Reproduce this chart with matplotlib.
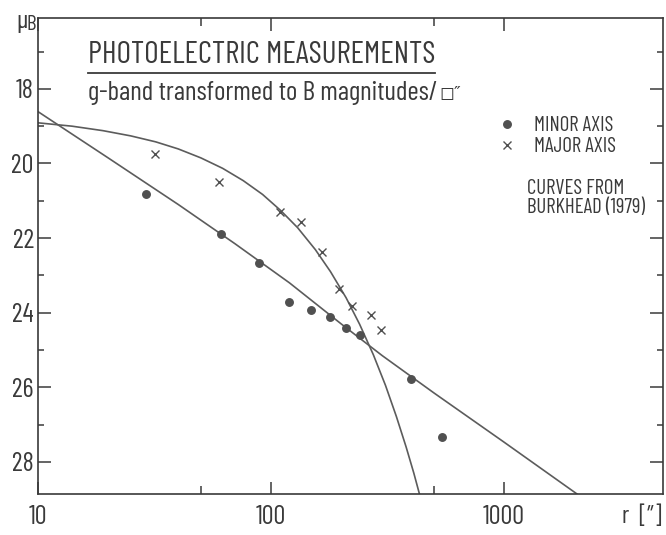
import matplotlib
matplotlib.use("Agg")
import matplotlib.pyplot as plt
from matplotlib.lines import Line2D

FONT = ["Barlow Condensed", "Archivo Narrow", "DejaVu Sans"]
INK = "#3a3a3a"
GREY = "#5c5c5c"

# measured points (r in arcsec, mu_B in mag/arcsec^2)
minor_r = [29.1, 61.0, 88.8, 119.5, 148.5, 179, 209.8, 241, 399, 542]
minor_mu = [20.83, 21.88, 22.68, 23.72, 23.94, 24.12, 24.42, 24.60, 25.78, 27.33]
major_r = [31.8, 59.8, 109, 134.5, 165.5, 196, 222.6, 268.7, 296.7]
major_mu = [19.74, 20.49, 21.29, 21.58, 22.36, 23.37, 23.83, 24.07, 24.47]

# Burkhead (1979) curves
burk_minor_r = [10, 20, 40, 70, 120, 200, 300, 500, 1000, 2100]
burk_minor_mu = [18.61, 19.85, 21.10, 22.15, 23.20, 24.30, 25.15, 26.15, 27.47, 28.90]
burk_major_r = [10, 14, 19, 25, 32, 40, 50, 62, 76, 92, 110, 130, 155, 180, 210,
                240, 275, 310, 345, 380, 410, 440]
burk_major_mu = [18.91, 19.00, 19.12, 19.26, 19.42, 19.61, 19.85, 20.13, 20.46, 20.83,
                 21.26, 21.72, 22.31, 22.90, 23.60, 24.31, 25.13, 25.95, 26.78, 27.60,
                 28.30, 29.01]

x_major = [10, 100, 1000]
x_labels = ["10", "100", "1000"]
x_minor = [50, 500]
y_major = [18, 20, 22, 24, 26, 28]
y_minor = [17, 19, 21, 23, 25, 27]

W, H = 666, 535
fig = plt.figure(figsize=(W / 100, H / 100), dpi=100)
ax = fig.add_axes([38 / W, 1 - 494 / H, (663 - 38) / W, (494 - 18) / H])

ax.plot(burk_minor_r, burk_minor_mu, color=GREY, lw=1.2)
ax.plot(burk_major_r, burk_major_mu, color=GREY, lw=1.2)
ax.plot(minor_r, minor_mu, ls="none", marker="o", ms=5.4, color="#505050",
        label="MINOR AXIS")
ax.plot(major_r, major_mu, ls="none", marker="x", ms=6, mew=1.0, color="#505050",
        label="MAJOR AXIS")

ax.set_xscale("log")
ax.set_xlim(10, 4810)
ax.set_ylim(28.86, 16.1)

ax.set_xticks(x_major, labels=x_labels)
ax.set_xticks(x_minor, minor=True)
ax.set_xticklabels([], minor=True)
ax.set_yticks(y_major, labels=[str(v) for v in y_major])
ax.set_yticks(y_minor, minor=True)

ax.tick_params(which="both", direction="in", top=True, right=True, color=INK, width=1.1)
ax.tick_params(axis="x", which="major", length=9, pad=8)
ax.tick_params(axis="x", which="minor", length=6)
ax.tick_params(axis="y", which="major", length=9.5, pad=3)
ax.tick_params(axis="y", which="minor", length=4.5)
for lab in ax.get_xticklabels() + ax.get_yticklabels():
    lab.set_family(FONT)
    lab.set_fontsize(19)
    lab.set_color(INK)
for sp in ax.spines.values():
    sp.set_color(INK)
    sp.set_linewidth(1.2)

# axis labels
fig.text(16 / W, 1 - 21 / H, "\u03bc", family=FONT, fontsize=19, color=INK,
         ha="left", va="center")
fig.text(26 / W, 1 - 25 / H, "B", family=FONT, fontsize=15, color=INK,
         ha="left", va="center")
fig.text(662 / W, 1 - 517 / H, "r  [\u2033]", family=FONT, fontsize=18, color=INK,
         ha="right", va="center")

# heading
fig.text(88 / W, 1 - 55 / H, "PHOTOELECTRIC MEASUREMENTS", family=FONT, fontsize=22.5,
         color=INK, ha="left", va="center")
fig.add_artist(Line2D([88 / W, 435 / W], [1 - 73 / H, 1 - 73 / H], color=INK, lw=1.3))
sub = fig.text(88 / W, 1 - 93 / H, "g-band transformed to B magnitudes/", family=FONT,
               fontsize=19.5, color=INK, ha="left", va="center")
ax.annotate("\u25fb\u2033", xy=(1, 0.45), xycoords=sub, xytext=(1, 0),
            textcoords="offset points", family=["DejaVu Sans"], fontsize=13,
            color=INK, ha="left", va="center", annotation_clip=False)

leg = ax.legend(loc="upper left", bbox_to_anchor=(497 / W, 1 - 116 / H),
                bbox_transform=fig.transFigure, frameon=False, handlelength=1.0,
                handletextpad=0.8, borderaxespad=0, borderpad=0, labelspacing=0.1,
                prop={"family": FONT, "size": 15})
for t in leg.get_texts():
    t.set_color(INK)

fig.text(527 / W, 1 - 198 / H, "CURVES FROM\nBURKHEAD (1979)", family=FONT, fontsize=15,
         color=INK, ha="left", va="center", linespacing=1.0)

fig.savefig("out.png", dpi=100, facecolor="white")
